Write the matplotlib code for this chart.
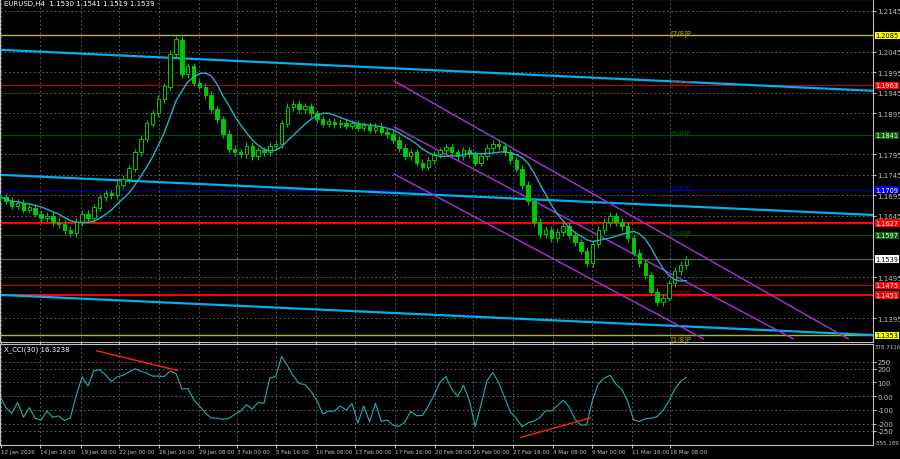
import matplotlib
matplotlib.use("Agg")
import matplotlib.pyplot as plt
import numpy as np
import pandas as pd

closes = [
    1.1690, 1.1682, 1.1670, 1.1676, 1.1660, 1.1665, 1.1650, 1.1640, 1.1645, 1.1630, 1.1625, 1.1610, 1.1602,
    1.1630, 1.1650, 1.1640, 1.1665, 1.1690, 1.1700, 1.1695, 1.1720, 1.1735, 1.1760, 1.1800, 1.1833,
    1.1870, 1.1895, 1.1930, 1.1960, 1.2040, 1.2075,
    1.1990, 1.2010, 1.1970, 1.1960, 1.1940, 1.1905, 1.1880, 1.1845, 1.1808,
    1.1800, 1.1795, 1.1815, 1.1790, 1.1805, 1.1800, 1.1815, 1.1820,
    1.1870, 1.1910, 1.1918, 1.1905, 1.1912, 1.1895,
    1.1880, 1.1870, 1.1875, 1.1868, 1.1872, 1.1865, 1.1870, 1.1860, 1.1865, 1.1855, 1.1862, 1.1850, 1.1845,
    1.1830, 1.1810, 1.1790, 1.1800, 1.1775, 1.1765, 1.1780, 1.1795,
    1.1805, 1.1812, 1.1800, 1.1790, 1.1805, 1.1795, 1.1775, 1.1790, 1.1810, 1.1820, 1.1815, 1.1800, 1.1780,
    1.1760, 1.1720, 1.1680, 1.1630, 1.1600, 1.1610, 1.1590,
    1.1605, 1.1620, 1.1598, 1.1580, 1.1560, 1.1530, 1.1575,
    1.1610, 1.1630, 1.1645, 1.1630, 1.1620,
    1.1590, 1.1555, 1.1530, 1.1500, 1.1460, 1.1435,
    1.1445, 1.1480, 1.1510, 1.1525, 1.1539,
]

# horizontal levels: (price, colour, width, label colour, text colour)
levels = [
    (1.2085, "#b8b800", 1.0, "#ffff00", "black"),
    (1.1963, "#c00000", 0.8, "#ff0000", "white"),
    (1.1841, "#005000", 0.8, "#006400", "white"),
    (1.1709, "#0000c0", 0.8, "#0000ff", "white"),
    (1.1627, "#ff0000", 1.5, "#ff0000", "white"),
    (1.1597, "#005000", 0.8, "#006400", "white"),
    (1.1539, "#606060", 0.8, "#ffffff", "black"),
    (1.1475, "#c00000", 0.8, "#ff0000", "white"),
    (1.1451, "#ff0000", 1.5, "#ff0000", "white"),
    (1.1353, "#b8b800", 1.0, "#ffff00", "black"),
]
murray = [(1.2085, "[7/8]P", "#b8b800"), (1.1963, "[6/8]P", "#c00000"),
          (1.1841, "[5/8]P", "#006400"), (1.1709, "[4/8]P", "#0000c0"),
          (1.1597, "[3/8]P", "#006400"), (1.1451, "[2/8]P", "#c00000"),
          (1.1340, "[1/8]P", "#b8b800")]
cyan_lines = [((0, 1.2050), (875, 1.1950)), ((0, 1.1745), (875, 1.1647)),
              ((0, 1.1452), (875, 1.1354))]
purple_lines = [((395, 1.1974), (850, 1.1345)), ((395, 1.1862), (795, 1.1345)),
                ((395, 1.1747), (705, 1.1345))]
price_ticks = [1.2145, 1.2045, 1.1995, 1.1945, 1.1895, 1.1795, 1.1745, 1.1695,
               1.1645, 1.1495, 1.1395]
cci_ticks = [250, 200, 100, 0, -100, -200, -250]
cci_lines = [((97, 329), (178, 186)), ((522, -300), (592, -157))]
date_pos = [1, 40, 81, 119, 159, 199, 238, 277, 317, 356, 396, 436, 474, 514, 554, 593, 633, 672]
date_labels = ["12 Jan 2026", "14 Jan 16:00", "19 Jan 08:00", "22 Jan 00:00", "26 Jan 16:00",
               "29 Jan 08:00", "3 Feb 00:00", "5 Feb 16:00", "10 Feb 08:00", "13 Feb 00:00",
               "17 Feb 16:00", "20 Feb 08:00", "25 Feb 00:00", "27 Feb 16:00", "4 Mar 08:00",
               "9 Mar 00:00", "11 Mar 16:00", "16 Mar 08:00"]

c = np.array(closes)
o = np.r_[c[0], c[:-1]]
x = np.arange(len(c)) * 5.88
hi = np.maximum(o, c) + 0.0009
lo = np.minimum(o, c) - 0.0009
s = pd.Series(c)
ma = s.rolling(8, min_periods=1).mean()
sma = s.rolling(8, min_periods=1).mean()
md = s.rolling(8, min_periods=1).apply(lambda w: np.mean(np.abs(w - w.mean())), raw=True)
cci = ((s - sma) / (0.012 * md.replace(0, np.nan))).fillna(0).clip(-355, 378)

W = 873 / 900
fig = plt.figure(figsize=(9, 4.6), dpi=100, facecolor="black")
ax = fig.add_axes([0.0, 1 - 343 / 460, W, 343 / 460])
ax2 = fig.add_axes([0.0, 1 - 446 / 460, W, 101 / 460])
for a in (ax, ax2):
    a.set_facecolor("black")
    for sp in a.spines.values():
        sp.set_color("#c0c0c0")
    a.set_xlim(0, 875)
    a.set_xticks(date_pos)
    a.grid(True, color="#707070", ls=(0, (2, 3)), lw=0.6)
    a.yaxis.tick_right()
    a.tick_params(colors="#c0c0c0", labelsize=5, length=2, pad=1)
ax.set_ylim(1.1337, 1.2174)
ax.set_yticks(price_ticks)
ax.set_yticklabels([f"{t:.4f}" for t in price_ticks])
ax.set_xticklabels([])
ax2.set_ylim(-355, 378.7)
ax2.set_yticks(cci_ticks)
ax2.set_yticklabels(["250", "200", "100", "0.00", "-100", "-200", "-250"])
ax2.set_xticklabels(date_labels, ha="left", fontsize=4.1)

for p, col, lw, bc, tc in levels:
    ax.axhline(p, color=col, lw=lw, zorder=1)
    ax.text(1.003, p, f"{p:.4f}", transform=ax.get_yaxis_transform(), fontsize=4.8,
            color=tc, va="center", ha="left", clip_on=False,
            bbox=dict(facecolor=bc, edgecolor="none", pad=0.6))
for p, t, col in murray:
    ax.text(672, p + 0.0006, t, color=col, fontsize=5, va="center")
for (x0, y0), (x1, y1) in cyan_lines:
    ax.plot([x0, x1], [y0, y1], color="#00b0f0", lw=1.6, zorder=2)
for (x0, y0), (x1, y1) in purple_lines:
    ax.plot([x0, x1], [y0, y1], color="#9932cc", lw=1.1, zorder=2)

up = c >= o
ax.vlines(x, lo, hi, color="#00c800", lw=0.8, zorder=3)
ax.bar(x[up], (c - o)[up] + 0.00005, bottom=o[up], width=3.5, color="black",
       edgecolor="#00c800", lw=0.7, zorder=4)
ax.bar(x[~up], (o - c)[~up], bottom=c[~up], width=3.5, color="#00c800",
       edgecolor="#00c800", lw=0.7, zorder=4)
ax.plot(x, ma, color="#20b2c8", lw=1.0, zorder=5)
ax.text(4, 1.2160, "EURUSD,H4  1.1530 1.1541 1.1519 1.1539", color="white", fontsize=5)

ax2.plot(x, cci, color="#20b2aa", lw=0.8)
for (x0, y0), (x1, y1) in cci_lines:
    ax2.plot([x0, x1], [y0, y1], color="#ff2020", lw=1.0)
ax2.text(4, 330, "X_CCI(30) 16.3238", color="white", fontsize=5)
ax2.text(1.002, 378.7, "378.7116", transform=ax2.get_yaxis_transform(), fontsize=4,
         color="#c0c0c0", va="top", clip_on=False)
ax2.text(1.002, -355, "-355.189", transform=ax2.get_yaxis_transform(), fontsize=4,
         color="#c0c0c0", va="bottom", clip_on=False)

fig.savefig("out.png", dpi=100, facecolor="black")
